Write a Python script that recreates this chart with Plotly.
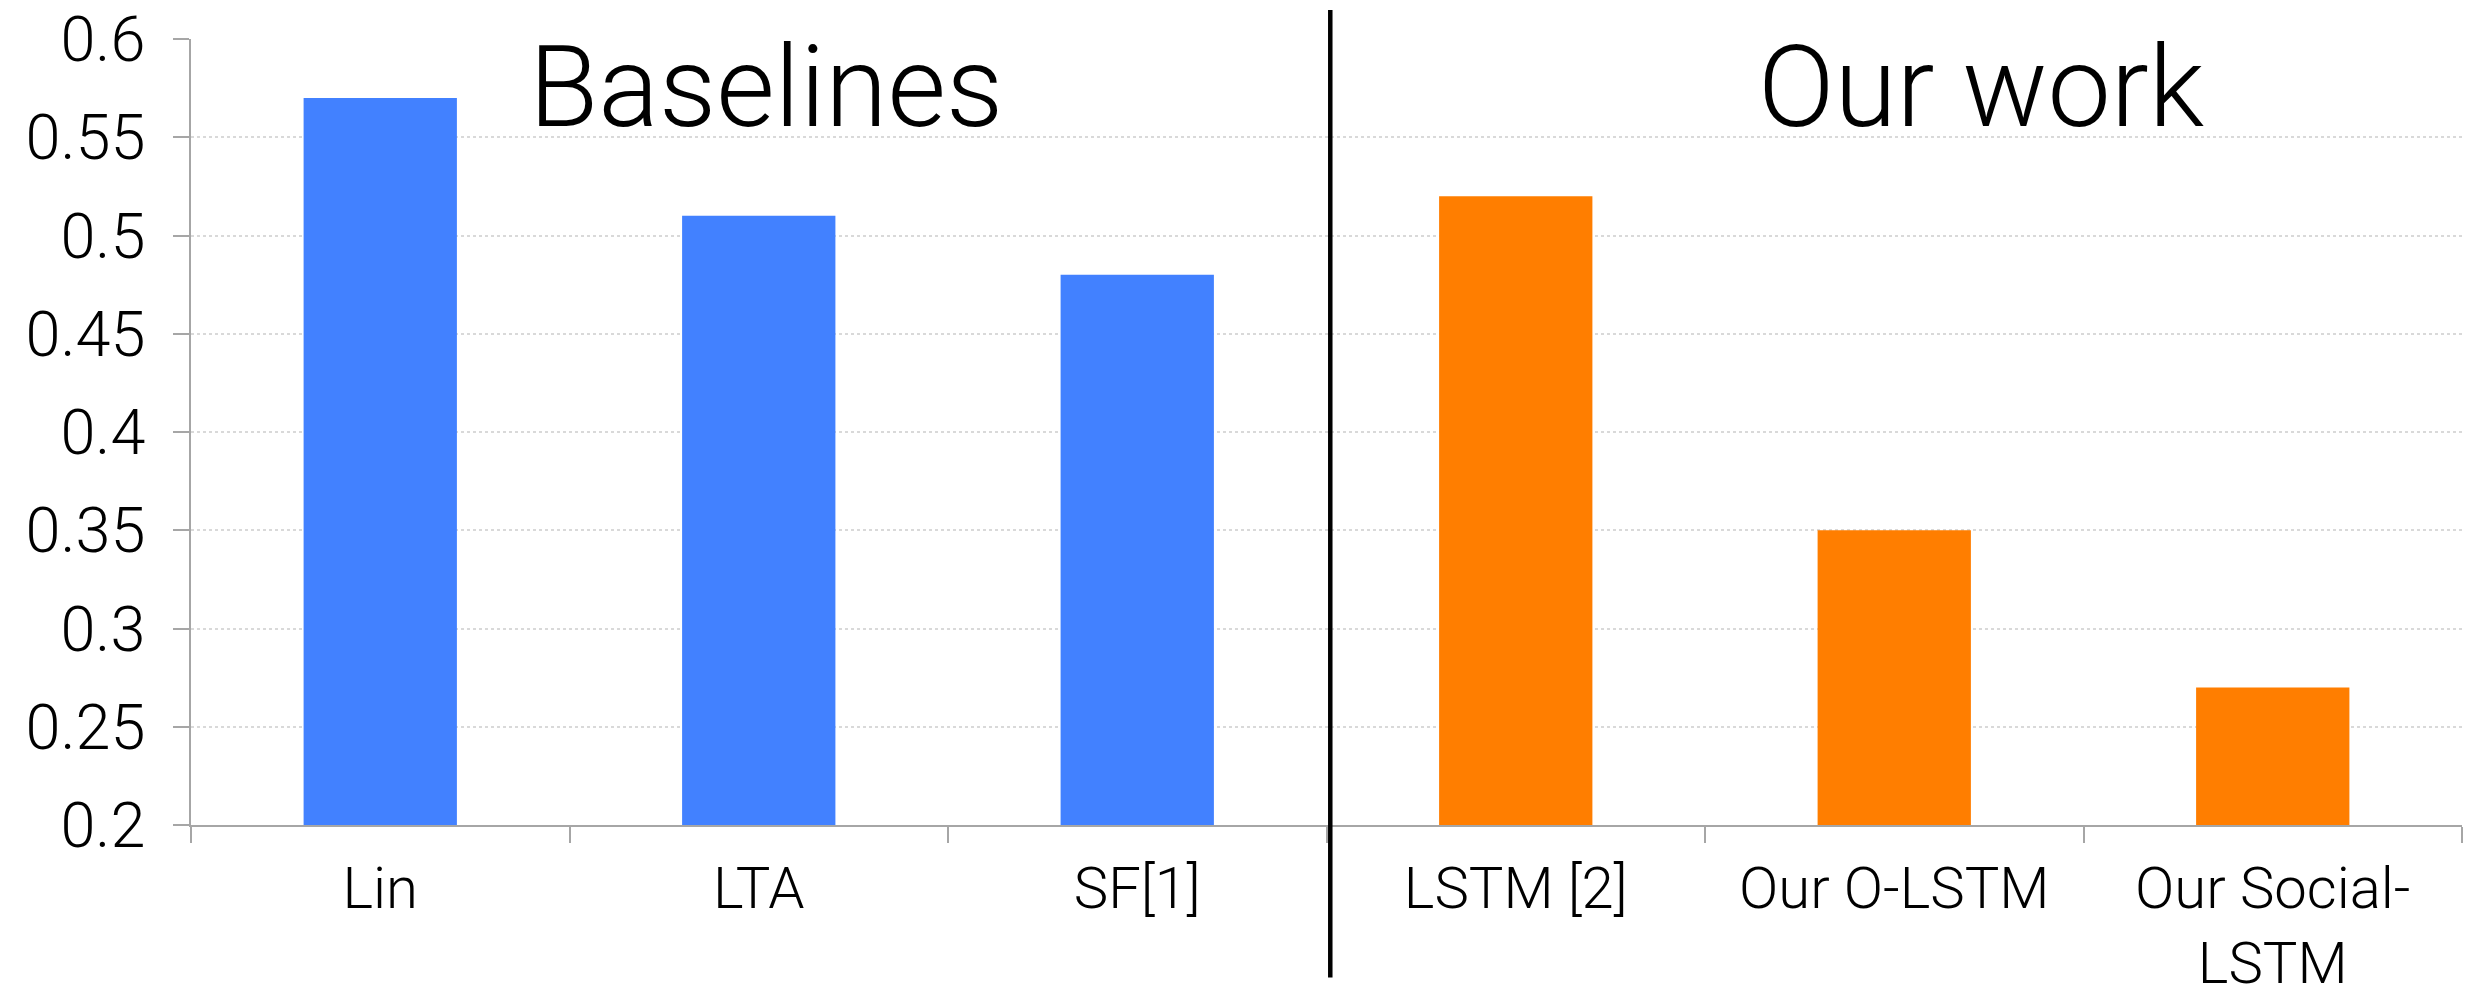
import plotly.graph_objects as go

# Method names and their error values
categories = ["Lin", "LTA", "SF[1]", "LSTM [2]", "Our O-LSTM", "Our Social-<br>LSTM"]
values = [0.57, 0.51, 0.48, 0.52, 0.35, 0.27]
groups = ["base", "base", "base", "ours", "ours", "ours"]
y_ticks = [0.2, 0.25, 0.3, 0.35, 0.4, 0.45, 0.5, 0.55, 0.6]
y_tick_text = ["0.2", "0.25", "0.3", "0.35", "0.4", "0.45", "0.5", "0.55", "0.6"]
group_titles = ["Baselines", "Our work"]
group_title_x = [1.02, 4.23]

colors = {"base": "#4281FF", "ours": "#FF7E00"}
FONT = "Roboto"

fig = go.Figure(
    go.Bar(
        x=categories,
        y=values,
        marker=dict(color=[colors[g] for g in groups], line=dict(width=0)),
        width=0.405,
        showlegend=False,
    )
)

# Vertical separator between the two groups
fig.add_shape(
    type="line",
    xref="x", yref="paper",
    x0=2.51, x1=2.51, y0=1.037, y1=-0.194,
    line=dict(color="black", width=4.5),
    layer="above",
)

for title, tx in zip(group_titles, group_title_x):
    fig.add_annotation(
        x=tx, y=0.5755, xref="x", yref="y",
        text=title, showarrow=False,
        font=dict(family=FONT, size=113, color="black", weight=300),
        xanchor="center", yanchor="middle",
    )

fig.update_layout(
    width=2479, height=1001,
    margin=dict(l=191, r=17, t=39, b=176, pad=0),
    paper_bgcolor="white", plot_bgcolor="white",
    font=dict(family=FONT, color="black", weight=300),
    bargap=0.595,
)

fig.update_xaxes(
    type="category",
    automargin=False,
    tickson="boundaries",
    ticks="outside", ticklen=16, tickwidth=2, tickcolor="#a6a6a6",
    showline=True, linecolor="#a6a6a6", linewidth=2,
    showgrid=False,
    tickfont=dict(family=FONT, size=58, color="black", weight=300),
    ticklabelstandoff=11,
)

fig.update_yaxes(
    range=[0.2, 0.6],
    automargin=False,
    tickvals=y_ticks, ticktext=y_tick_text,
    ticks="outside", ticklen=16, tickwidth=2, tickcolor="#a6a6a6",
    showline=True, linecolor="#a6a6a6", linewidth=2,
    showgrid=True, gridcolor="#d9d9d9", gridwidth=1.5, griddash="dot",
    zeroline=False,
    tickfont=dict(family=FONT, size=63, color="black", weight=300),
    ticklabelstandoff=15,
)

fig.write_html("out.html")
